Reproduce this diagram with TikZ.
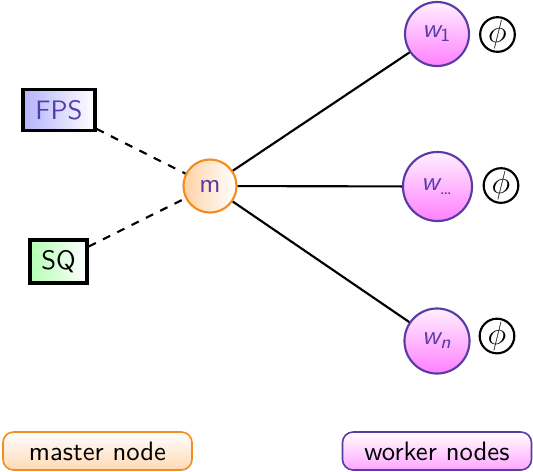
\documentclass[tikz,border=0pt]{standalone}
\usetikzlibrary{positioning}
\definecolor{NodeViolet}{RGB}{88,60,165}
\definecolor{NodeOrange}{RGB}{245,140,30}
% worker label: slanted w with a subscript
\newcommand{\wlabel}[1]{{\slshape w}\textsubscript{#1}}

\tikzset{
  master/.style={circle,draw=NodeOrange,thick,left color=orange!35,right color=white,
    text=NodeViolet,minimum size=19.9pt,inner sep=0pt},
  worker/.style={circle,draw=NodeViolet,thick,top color=magenta!6,bottom color=magenta!50,
    text=NodeViolet,minimum size=24pt,inner sep=1pt},
  phinode/.style={circle,draw,thick,minimum size=13pt,inner sep=0pt,font=\large},
  source/.style={draw,very thick,right color=white,minimum height=15.4pt},
  legend/.style={rounded corners=4pt,semithick,minimum width=70.9pt,minimum height=14.25pt},
}

\begin{document}
\begin{tikzpicture}[x=0.375pt,y=-0.375pt,font=\sffamily]
  \useasboundingbox (0,0) rectangle (533,471);
  % master and its inputs
  \node[master] (m) at (210,186) {m};
  \node[source,left color=blue!30,text=NodeViolet,minimum width=27pt] (fps) at (59,110) {FPS};
  \node[source,left color=green!30,minimum width=21.4pt,minimum height=16.1pt] (sq) at (58.5,261.5) {SQ};
  \draw[dashed,thick] (fps) -- (m);
  \draw[dashed,thick] (sq) -- (m);
  % workers
  \node[worker] (w1) at (437,34) {\wlabel{1}};
  \node[worker,minimum size=25.9pt] (wd) at (437.5,186.5) {\wlabel{\dots}};
  \node[worker,minimum size=24.4pt] (wn) at (437,341) {\wlabel{\slshape n}};
  \foreach \w in {w1,wd,wn}
    \draw[thick] (m) -- (\w);
  \node[phinode] (phi1) at (497.5,34.5) {$\phi$};
  \node[phinode] (phi2) at (501,185.5) {$\phi$};
  \node[phinode] (phi3) at (497,336) {$\phi$};
  % legend
  \node[legend,draw=NodeOrange,top color=white,bottom color=orange!30] (lm) at (97.5,451) {master node};
  \node[legend,draw=NodeViolet,top color=white,bottom color=magenta!35] (lw) at (437,451) {worker nodes};
\end{tikzpicture}
\end{document}
